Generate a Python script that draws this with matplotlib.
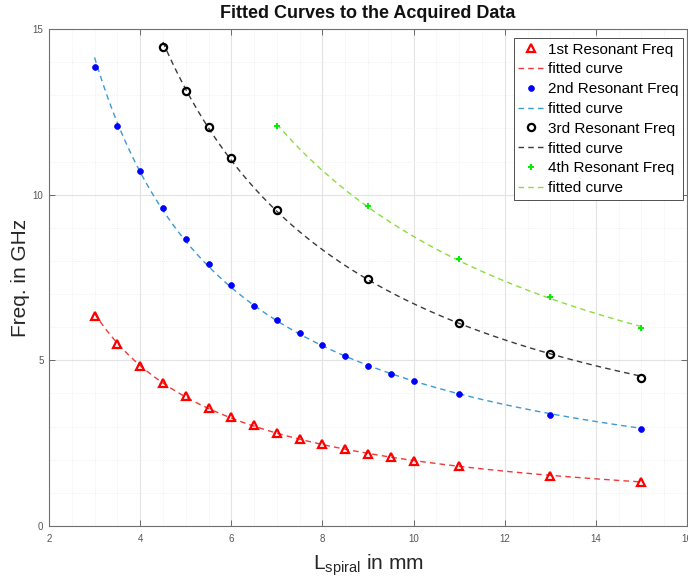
import numpy as np
import matplotlib
matplotlib.use("Agg")
import matplotlib.pyplot as plt
from matplotlib.ticker import MultipleLocator

plt.rcParams['font.family'] = ['Liberation Sans', 'DejaVu Sans']
plt.rcParams['mathtext.fontset'] = 'custom'
plt.rcParams['mathtext.rm'] = 'Liberation Sans'
plt.rcParams['mathtext.it'] = 'Liberation Sans'

# Spiral length (mm) and measured resonant frequencies (GHz)
l_dense = [3, 3.5, 4, 4.5, 5, 5.5, 6, 6.5, 7, 7.5, 8, 8.5, 9, 9.5, 10, 11, 13, 15]
f1 = [6.34, 5.49, 4.83, 4.33, 3.91, 3.57, 3.28, 3.06, 2.81, 2.62, 2.47, 2.31,
      2.18, 2.07, 1.97, 1.80, 1.52, 1.33]
f2 = [13.84, 12.08, 10.71, 9.59, 8.66, 7.91, 7.28, 6.65, 6.23, 5.82, 5.47, 5.12,
      4.84, 4.60, 4.38, 3.98, 3.36, 2.92]
l3 = [4.5, 5, 5.5, 6, 7, 9, 11, 13, 15]
f3 = [14.47, 13.14, 12.05, 11.10, 9.54, 7.46, 6.14, 5.20, 4.48]
l4 = [7, 9, 11, 13, 15]
f4 = [12.07, 9.65, 8.05, 6.90, 5.97]

series = [
    (l_dense, f1, '1st Resonant Freq',
     dict(marker='^', color='#ff0000', mfc='none', ms=6.2, mew=1.6),
     '#ee3a3a'),
    (l_dense, f2, '2nd Resonant Freq',
     dict(marker='o', color='#0000ff', mfc='#0000ff', ms=4.2, mew=0.5),
     '#3b9ad6'),
    (l3, f3, '3rd Resonant Freq',
     dict(marker='o', color='#000000', mfc='none', ms=5.2, mew=1.6),
     '#3a3a3a'),
    (l4, f4, '4th Resonant Freq',
     dict(marker='+', color='#00ee00', ms=5, mew=1.4),
     '#8cdc3c'),
]

fig = plt.figure(figsize=(6.88, 5.79), dpi=100)
ax = fig.add_axes([49 / 688, 1 - 526 / 579, 638 / 688, 497 / 579])

for x, y, name, mstyle, fit_color in series:
    x = np.asarray(x, dtype=float)
    y = np.asarray(y, dtype=float)
    ax.plot(x, y, linestyle='none', label=name, zorder=3, **mstyle)
    # power-law fit y = a * x^b
    b, loga = np.polyfit(np.log(x), np.log(y), 1)
    xs = np.linspace(x.min(), x.max(), 300)
    ax.plot(xs, np.exp(loga) * xs ** b, linestyle=(0, (4, 3)), lw=1.0,
            color=fit_color, label='fitted curve', zorder=2)

ax.set_xlim(2, 16)
ax.set_ylim(0, 15)
ax.xaxis.set_major_locator(MultipleLocator(2))
ax.xaxis.set_minor_locator(MultipleLocator(0.5))
ax.yaxis.set_major_locator(MultipleLocator(5))
ax.yaxis.set_minor_locator(MultipleLocator(1))

ax.grid(True, which='major', color='#e3e3e3', lw=0.8)
ax.grid(True, which='minor', color='#ececec', lw=0.6, linestyle=(0, (1, 1.5)))
ax.set_axisbelow(True)

ax.tick_params(which='major', direction='in', length=4, width=0.6,
               colors='#555555', labelsize=7, top=True, right=True, pad=4)
ax.tick_params(which='minor', length=0, top=True, right=True)
ax.tick_params(axis='x', pad=6)
for s in ax.spines.values():
    s.set_color('#707070')
    s.set_linewidth(0.8)

ax.set_title('Fitted Curves to the Acquired Data', fontsize=13,
             fontweight='bold', color='#111111', pad=8)
ax.set_xlabel(r'L$_{\mathrm{spiral}}$ in mm', fontsize=15, color='#262626',
              labelpad=6)
ax.set_ylabel('Freq. in GHz', fontsize=15, color='#262626', labelpad=2)

leg = ax.legend(loc='upper right', bbox_to_anchor=(0.9937, 0.982),
                borderaxespad=0, fontsize=11, frameon=True, fancybox=False,
                framealpha=1, edgecolor='#333333', handlelength=1.7,
                handletextpad=0.25, labelspacing=0.38, borderpad=0.3,
                numpoints=1)
leg.get_frame().set_linewidth(0.6)

fig.savefig('out.png', dpi=100)
